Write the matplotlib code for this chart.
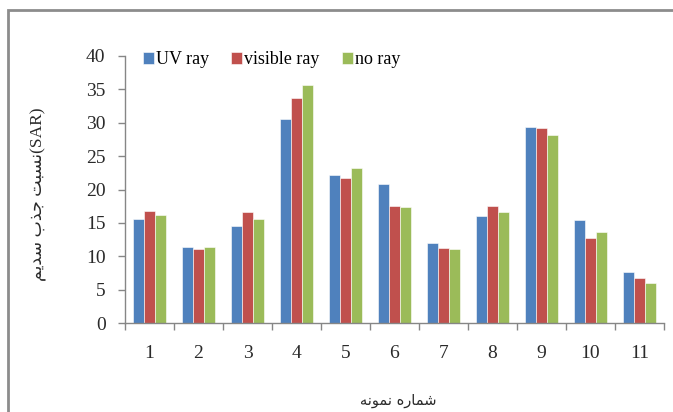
import numpy as np
import matplotlib
matplotlib.use("Agg")
import matplotlib.pyplot as plt
from matplotlib.patches import Rectangle
from matplotlib.ticker import FixedLocator

categories = ["1", "2", "3", "4", "5", "6", "7", "8", "9", "10", "11"]
series_names = ["UV ray", "visible ray", "no ray"]
uv_ray = [15.65, 11.4, 14.5, 30.5, 22.2, 20.85, 12.05, 16.05, 29.3, 15.5, 7.6]
visible_ray = [16.8, 11.05, 16.6, 33.75, 21.65, 17.6, 11.3, 17.6, 29.15, 12.8, 6.8]
no_ray = [16.25, 11.4, 15.65, 35.65, 23.15, 17.4, 11.05, 16.65, 28.15, 13.7, 6.05]
y_ticks = [0, 5, 10, 15, 20, 25, 30, 35, 40]

# Persian labels in visual (pre-shaped) order
xlabel_text = "\uFEEA\uFEE7\uFEEE\uFEE4\uFEE7 \uFEE9\uFEAD\uFE8E\uFEE4\uFEB7"  # شماره نمونه
ylabel_text = "\uFEE2\uFEF3\uFEAA\uFEB3 \uFE8F\uFEAC\uFE9F \uFE96\uFE92\uFEB4\uFEE7(SAR)"  # نسبت جذب سدیم(SAR)

colors = ["#4F81BD", "#C0504D", "#9BBB59"]
W, H = 673, 412
fig = plt.figure(figsize=(W / 100, H / 100), dpi=100)
fig.patch.set_facecolor("white")

# outer frame (left and top visible)
fig.add_artist(Rectangle((8 / W, -0.2), 1.2, 1 - 10 / H + 0.2, transform=fig.transFigure,
                         fill=False, edgecolor="#8C8C8C", linewidth=2.0))

ax = fig.add_axes([125 / W, 1 - 323 / H, (664 - 125) / W, (323 - 56) / H])
x = np.arange(1, len(categories) + 1)
bw = 0.22
for i, (vals, name) in enumerate(zip([uv_ray, visible_ray, no_ray], series_names)):
    ax.bar(x + (i - 1) * bw, vals, width=bw, color=colors[i], label=name,
           edgecolor="white", linewidth=0.4, zorder=2)

ax.set_xlim(0.5, len(categories) + 0.5)
ax.set_ylim(0, 40)
ax.set_yticks(y_ticks)
ax.set_xticks(x)
ax.set_xticklabels(categories)
ax.xaxis.set_minor_locator(FixedLocator(np.arange(0.5, len(categories) + 1, 1)))

for s in ["top", "right"]:
    ax.spines[s].set_visible(False)
for s in ["left", "bottom"]:
    ax.spines[s].set_color("#868686")
    ax.spines[s].set_linewidth(1.0)

ax.tick_params(axis="y", direction="out", length=5, width=1, color="#868686",
               pad=9, labelsize=14, labelcolor="#2a2a2a")
ax.tick_params(axis="x", which="major", length=0, pad=16, labelsize=14, labelcolor="#2a2a2a")
ax.tick_params(axis="x", which="minor", direction="out", length=5, width=1, color="#868686")
for lab in ax.get_xticklabels() + ax.get_yticklabels():
    lab.set_family("Liberation Serif")

leg = fig.legend(loc="center left", bbox_to_anchor=(143 / W, 1 - 60 / H), ncol=3,
                 frameon=False, prop=dict(family="Liberation Serif", size=13),
                 handlelength=0.6, handleheight=0.6, handletextpad=0.1,
                 columnspacing=1.25, borderpad=0, borderaxespad=0)

fig.text(39 / W, 1 - 194 / H, ylabel_text, rotation=90, ha="center", va="center",
         family=["Liberation Serif", "DejaVu Sans"], size=12.5, color="#2a2a2a")
fig.text(398 / W, 1 - 400 / H, xlabel_text, ha="center", va="center",
         family=["DejaVu Sans"], size=10.5, color="#2a2a2a")

fig.savefig("out.png", dpi=100, facecolor="white")
